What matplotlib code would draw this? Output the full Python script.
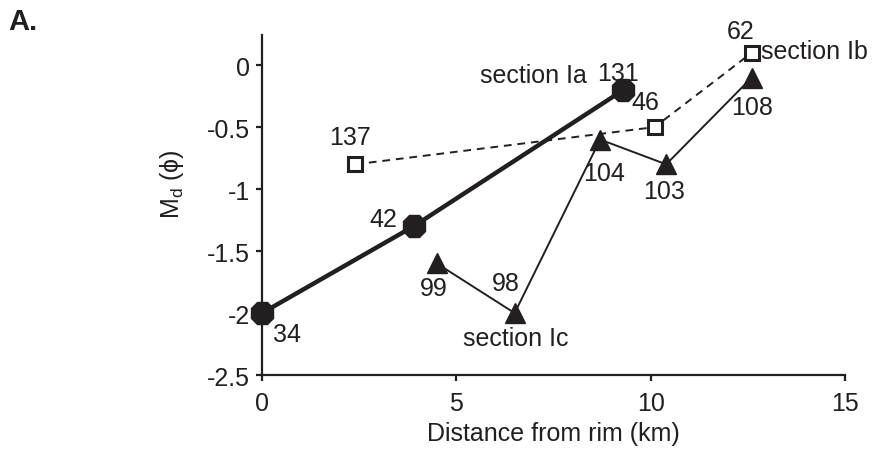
import matplotlib
matplotlib.use("Agg")
import matplotlib.pyplot as plt

plt.rcParams['font.family'] = ['Liberation Sans', 'DejaVu Sans']

ia_x = [0.0, 3.9, 9.3]
ia_y = [-2.0, -1.3, -0.2]
ia_lab = ["34", "42", "131"]

ib_x = [2.4, 10.1, 12.6]
ib_y = [-0.8, -0.5, 0.1]
ib_lab = ["137", "46", "62"]

ic_x = [4.5, 6.5, 8.7, 10.4, 12.6]
ic_y = [-1.6, -2.0, -0.6, -0.8, -0.1]
ic_lab = ["99", "98", "104", "103", "108"]

ink = '#231f20'
fig = plt.figure(figsize=(8.74, 4.52), dpi=100)
ax = fig.add_axes([0.2998, 0.168, 0.667, 0.752])

ax.plot(ib_x, ib_y, color=ink, lw=1.4, ls=(0, (4, 3)), marker='s', ms=10,
        mfc='white', mec=ink, mew=2.2, zorder=3)
ax.plot(ic_x, ic_y, color=ink, lw=1.4, marker='^', ms=14,
        mfc=ink, mec=ink, zorder=3)
ax.plot(ia_x, ia_y, color=ink, lw=3.2, marker='8', ms=17,
        mfc=ink, mec=ink, zorder=4)

fs = 18
ia_off = [(18, -15), (-22, 5), (-4, 12)]
for x, y, t, o in zip(ia_x, ia_y, ia_lab, ia_off):
    ax.annotate(t, (x, y), xytext=o, textcoords='offset points', fontsize=fs,
                ha='center', va='center', color=ink)
ib_off = [(-4, 20), (-7, 18), (-8, 16)]
for x, y, t, o in zip(ib_x, ib_y, ib_lab, ib_off):
    ax.annotate(t, (x, y), xytext=o, textcoords='offset points', fontsize=fs,
                ha='center', va='center', color=ink)
ic_off = [(-2, -18), (-6, 22), (3, -24), (-1.5, -19), (0, -21)]
for x, y, t, o in zip(ic_x, ic_y, ic_lab, ic_off):
    ax.annotate(t, (x, y), xytext=o, textcoords='offset points', fontsize=fs,
                ha='center', va='center', color=ink)

ax.annotate("section Ia", (ia_x[-1], ia_y[-1]), xytext=(-65, 11), textcoords='offset points',
            fontsize=fs, ha='center', va='center', color=ink)
ax.annotate("section Ib", (ib_x[-1], ib_y[-1]), xytext=(7, 1), textcoords='offset points',
            fontsize=fs, ha='left', va='center', color=ink)
ax.annotate("section Ic", (ic_x[1], ic_y[1]), xytext=(1, -18), textcoords='offset points',
            fontsize=fs, ha='center', va='center', color=ink)

ax.set_xlim(0, 15)
ax.set_ylim(-2.5, 0.242)
ax.set_xticks([0, 5, 10, 15])
ax.set_yticks([-2.5, -2, -1.5, -1, -0.5, 0])
ax.set_yticklabels(["-2.5", "-2", "-1.5", "-1", "-0.5", "0"])
ax.spines['top'].set_visible(False)
ax.spines['right'].set_visible(False)
for s in ['left', 'bottom']:
    ax.spines[s].set_linewidth(1.6)
    ax.spines[s].set_color(ink)
ax.tick_params(direction='out', length=4.5, width=1.6, labelsize=fs, colors=ink)
ax.tick_params(axis='x', pad=7)
ax.tick_params(axis='y', pad=4)
ax.set_xlabel("Distance from rim (km)", fontsize=fs, labelpad=4, color=ink)
ax.set_ylabel(r"M$_\mathregular{d}$ (ϕ)", fontsize=fs, color=ink)
ax.yaxis.set_label_coords(-0.13, 0.565)
for l in ax.lines:
    l.set_clip_on(False)

fig.text(0.009, 0.934, "A.", fontsize=21, fontweight='bold', color=ink)

fig.savefig("out.png", dpi=100)
